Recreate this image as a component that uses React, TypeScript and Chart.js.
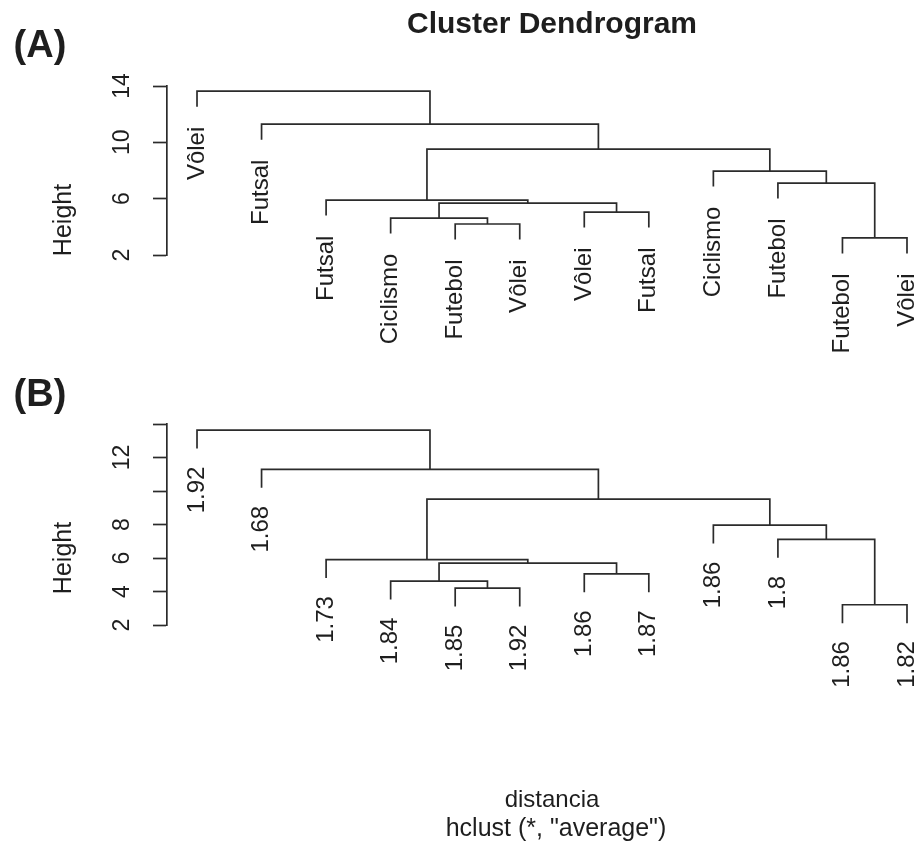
import React, { useEffect, useRef } from 'react';
import { Chart, registerables } from 'chart.js';

Chart.register(...registerables);

// ---- data ----
const leafLabelsA = ['Vôlei', 'Futsal', 'Futsal', 'Ciclismo', 'Futebol', 'Vôlei', 'Vôlei', 'Futsal', 'Ciclismo', 'Futebol', 'Futebol', 'Vôlei'];
const leafLabelsB = ['1.92', '1.68', '1.73', '1.84', '1.85', '1.92', '1.86', '1.87', '1.86', '1.8', '1.86', '1.82'];
// R-style merge table: negative = leaf (position in plot order, 1-based), positive = earlier merge step
const mergeLeft = [-11, -5, -4, -7, 3, -3, -10, -9, 6, -2, -1];
const mergeRight = [-12, -6, 2, -8, 4, 5, 1, 7, 8, 9, 10];
const mergeHeights = [3.21, 4.2, 4.62, 5.05, 5.69, 5.9, 7.11, 7.96, 9.52, 11.29, 13.63];
const hang = 1.1;
const yTickValues = [2, 4, 6, 8, 10, 12, 14];
const yLabelsShownA = [2, 6, 10, 14];
const yLabelsShownB = [2, 4, 6, 8, 12];
const titleText = 'Cluster Dendrogram';
const xLabelText = 'distancia';
const subText = 'hclust (*, "average")';
const yLabelText = 'Height';

const FONT = "'Liberation Sans', Arial, Helvetica, sans-serif";
const LINE = '#2b2b2b';
const TEXT = '#1e1e1e';

function buildTree() {
  const n = leafLabelsA.length;
  const centers: number[] = [];
  const leafEnd: number[] = new Array(n).fill(0);
  const segs: { x: number; y: number }[][] = [];
  for (let k = 0; k < mergeHeights.length; k++) {
    const h = mergeHeights[k];
    const side = (c: number) => {
      if (c < 0) {
        const idx = -c;
        leafEnd[idx - 1] = h - hang;
        return { x: idx, b: h - hang };
      }
      return { x: centers[c - 1], b: mergeHeights[c - 1] };
    };
    const l = side(mergeLeft[k]);
    const r = side(mergeRight[k]);
    centers.push((l.x + r.x) / 2);
    segs.push([
      { x: l.x, y: l.b },
      { x: l.x, y: h },
      { x: r.x, y: h },
      { x: r.x, y: r.b },
    ]);
  }
  return { segs, leafEnd };
}

function drawText(ctx: CanvasRenderingContext2D, text: string, x: number, y: number, font: string, rot = 0, align: CanvasTextAlign = 'center') {
  ctx.save();
  ctx.translate(x, y);
  if (rot) ctx.rotate(rot);
  ctx.font = font;
  ctx.fillStyle = TEXT;
  ctx.textAlign = align;
  ctx.textBaseline = 'middle';
  ctx.fillText(text, 0, 0);
  ctx.restore();
}

function makeConfig(which: 'A' | 'B', padTop: number, padBottom: number): any {
  const { segs, leafEnd } = buildTree();
  const leafLabels = which === 'A' ? leafLabelsA : leafLabelsB;
  const shown = which === 'A' ? yLabelsShownA : yLabelsShownB;
  const gap = which === 'A' ? 20 : 18;

  const textPlugin = {
    id: 'dendroText' + which,
    afterDraw(chart: any) {
      const ctx = chart.ctx as CanvasRenderingContext2D;
      const xs = chart.scales.x;
      const ys = chart.scales.y;
      // leaf labels
      leafLabels.forEach((lab, i) => {
        const px = xs.getPixelForValue(i + 1);
        const py = ys.getPixelForValue(leafEnd[i]) + gap;
        drawText(ctx, lab, px, py, `24px ${FONT}`, -Math.PI / 2, 'right');
      });
      const cx = xs.getPixelForValue(6.5);
      if (which === 'A') {
        drawText(ctx, titleText, cx, 25, `bold 30px ${FONT}`);
        drawText(ctx, '(A)', 40, 47, `bold 38px ${FONT}`);
        drawText(ctx, yLabelText, 64, 220, `25px ${FONT}`, -Math.PI / 2);
      } else {
        drawText(ctx, '(B)', 40, 26, `bold 38px ${FONT}`);
        drawText(ctx, yLabelText, 64, 188, `25px ${FONT}`, -Math.PI / 2);
        drawText(ctx, xLabelText, cx, 430, `24px ${FONT}`);
        drawText(ctx, subText, cx + 4, 459, `25px ${FONT}`);
      }
    },
  };

  return {
    type: 'scatter',
    data: {
      datasets: segs.map((s) => ({
        data: s,
        showLine: true,
        borderColor: LINE,
        borderWidth: 1.7,
        pointRadius: 0,
        pointHoverRadius: 0,
        fill: false,
        tension: 0,
        clip: false,
      })),
    },
    options: {
      animation: false,
      responsive: false,
      events: [],
      layout: { padding: { left: 0, right: 0, top: padTop, bottom: padBottom } },
      plugins: { legend: { display: false }, tooltip: { enabled: false }, title: { display: false } },
      scales: {
        x: {
          type: 'linear',
          min: 0.535,
          max: 12.124,
          display: false,
        },
        y: {
          type: 'linear',
          min: 2,
          max: 14,
          afterBuildTicks(scale: any) {
            scale.ticks = yTickValues.map((v) => ({ value: v }));
          },
          afterFit(scale: any) {
            scale.width = 167;
          },
          ticks: {
            minRotation: 90,
            maxRotation: 90,
            crossAlign: 'center',
            padding: 18,
            color: TEXT,
            font: { family: FONT, size: 23 },
            callback: (v: number) => (shown.includes(v) ? String(v) : ''),
          },
          grid: {
            display: true,
            drawOnChartArea: false,
            drawTicks: true,
            tickLength: 14,
            tickColor: LINE,
            tickWidth: 1.7,
          },
          border: { display: true, color: LINE, width: 1.7 },
        },
      },
    },
    plugins: [textPlugin],
  };
}

export default function App() {
  const refA = useRef<HTMLCanvasElement>(null);
  const refB = useRef<HTMLCanvasElement>(null);

  useEffect(() => {
    const a = new Chart(refA.current!, makeConfig('A', 86, 370 - 255));
    const b = new Chart(refB.current!, makeConfig('B', 424 - 370, 473 - 255));
    return () => {
      a.destroy();
      b.destroy();
    };
  }, []);

  return (
    <div style={{ position: 'absolute', left: 0, top: 0, width: 915, height: 843, background: '#fff' }}>
      <canvas ref={refA} width={915} height={370} style={{ position: 'absolute', left: 0, top: 0, width: 915, height: 370 }} />
      <canvas ref={refB} width={915} height={473} style={{ position: 'absolute', left: 0, top: 370, width: 915, height: 473 }} />
    </div>
  );
}
